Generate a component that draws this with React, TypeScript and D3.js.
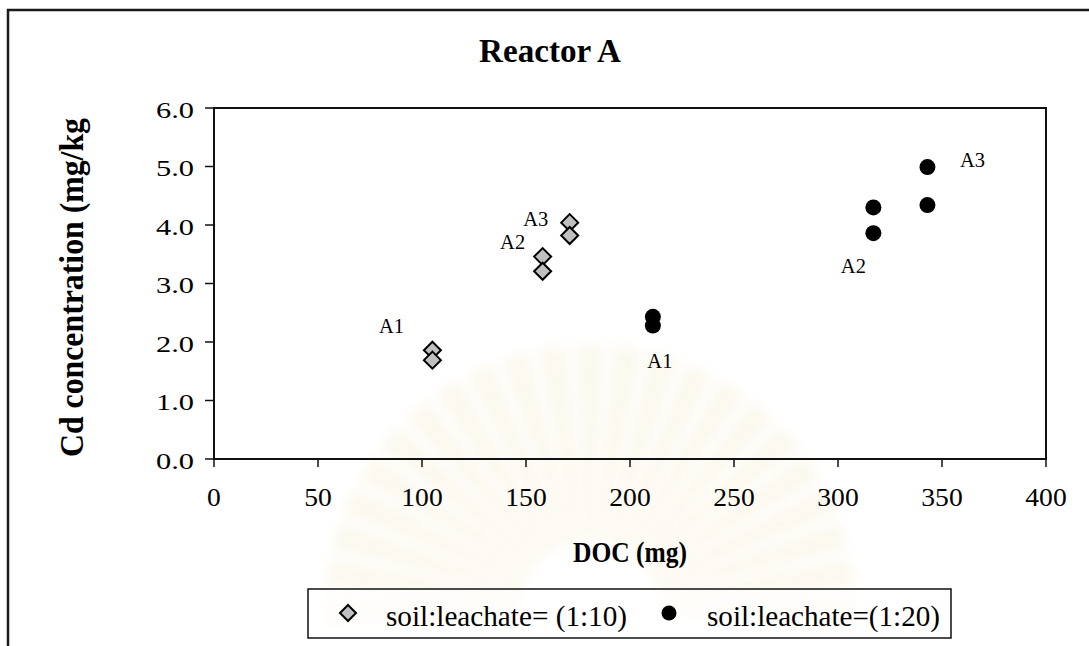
import React from "react";
import * as d3 from "d3";

// Reactor A: Cd concentration versus dissolved organic carbon
const seriesNames = ["soil:leachate= (1:10)", "soil:leachate=(1:20)"];

const docRatio10 = [105, 105, 158, 158, 171, 171];
const cdRatio10 = [1.86, 1.69, 3.46, 3.21, 4.04, 3.82];

const docRatio20 = [211, 211, 317, 317, 343, 343];
const cdRatio20 = [2.43, 2.28, 4.3, 3.86, 4.99, 4.34];

const xTicks = [0, 50, 100, 150, 200, 250, 300, 350, 400];
const yTicks = [0, 1, 2, 3, 4, 5, 6];

// Stage labels, attached to a point of a series (series index, point index)
const stageLabels = [
  { s: 0, i: 0, text: "A1", dx: -41, dy: -17 },
  { s: 0, i: 2, text: "A2", dx: -30, dy: -8 },
  { s: 0, i: 4, text: "A3", dx: -34, dy: 3 },
  { s: 1, i: 1, text: "A1", dx: 7, dy: 42 },
  { s: 1, i: 3, text: "A2", dx: -20, dy: 40 },
  { s: 1, i: 4, text: "A3", dx: 45, dy: 0 },
];

const W = 1089;
const H = 646;
const plot = { left: 214, right: 1046, top: 108, bottom: 459 };
const serif = "Liberation Serif";

const x = d3.scaleLinear().domain([0, 400]).range([plot.left, plot.right]);
const y = d3.scaleLinear().domain([0, 6]).range([plot.bottom, plot.top]);

const diamondPath = (cx: number, cy: number, r: number) =>
  `M${cx},${cy - r}L${cx + r},${cy}L${cx},${cy + r}L${cx - r},${cy}Z`;

const series = [
  docRatio10.map((d, i) => ({ doc: d, cd: cdRatio10[i] })),
  docRatio20.map((d, i) => ({ doc: d, cd: cdRatio20[i] })),
];

// faint background emblem: a fan of soft petals
const petals = d3.range(23).map((k) => {
  const a0 = Math.PI + (k * Math.PI) / 22;
  return d3.arc()({
    innerRadius: 70,
    outerRadius: 265,
    startAngle: a0 + Math.PI / 2 - 0.055,
    endAngle: a0 + Math.PI / 2 + 0.055,
  }) as string;
});

type TProps = React.SVGProps<SVGTextElement> & { children: React.ReactNode };
const T = (props: TProps) => <text fontFamily={serif} fill="#000" {...props} />;

export default function App() {
  return (
    <svg
      width={W}
      height={H}
      viewBox={`0 0 ${W} ${H}`}
      style={{ position: "absolute", left: 0, top: 0, background: "#fff" }}
    >
      <defs>
        <filter id="soft" x="-20%" y="-20%" width="140%" height="140%">
          <feGaussianBlur stdDeviation="6" />
        </filter>
      </defs>
      <rect x={0} y={0} width={W} height={H} fill="#fff" />

      <g transform="translate(590,610)" filter="url(#soft)" opacity={0.2}>
        {petals.map((p, k) => (
          <path key={k} d={p} fill="#efe0b0" />
        ))}
      </g>

      {/* chart frame */}
      <rect x={8} y={10} width={W + 20} height={H + 20} fill="none" stroke="#1a1a1a" strokeWidth={2.5} />

      <T
        x={550}
        y={62}
        textAnchor="middle"
        fontWeight="bold"
        fontSize={33}
        textLength={142}
        lengthAdjust="spacingAndGlyphs"
      >
        Reactor A
      </T>

      {/* plot area */}
      <rect
        x={plot.left}
        y={plot.top}
        width={plot.right - plot.left}
        height={plot.bottom - plot.top}
        fill="none"
        stroke="#111"
        strokeWidth={2}
      />

      {/* y axis */}
      {yTicks.map((t) => (
        <g key={`y${t}`}>
          <line x1={plot.left - 9} x2={plot.left} y1={y(t)} y2={y(t)} stroke="#111" strokeWidth={1.5} />
          <T
            x={194}
            y={y(t) + 9.5}
            textAnchor="end"
            fontSize={23}
            textLength={38}
            lengthAdjust="spacingAndGlyphs"
          >
            {d3.format(".1f")(t)}
          </T>
        </g>
      ))}

      {/* x axis */}
      {xTicks.map((t) => {
        const label = String(t);
        return (
          <g key={`x${t}`}>
            <line x1={x(t)} x2={x(t)} y1={plot.bottom} y2={plot.bottom + 8} stroke="#111" strokeWidth={1.5} />
            <T
              x={x(t)}
              y={506}
              textAnchor="middle"
              fontSize={25}
              textLength={label.length * 13.8}
              lengthAdjust="spacingAndGlyphs"
            >
              {label}
            </T>
          </g>
        );
      })}

      <T
        transform="translate(83,287.5) rotate(-90)"
        textAnchor="middle"
        fontWeight="bold"
        fontSize={33}
        textLength={339}
        lengthAdjust="spacingAndGlyphs"
      >
        Cd concentration (mg/kg
      </T>

      <T
        x={(plot.left + plot.right) / 2}
        y={562}
        textAnchor="middle"
        fontWeight="bold"
        fontSize={29}
        textLength={114}
        lengthAdjust="spacingAndGlyphs"
      >
        DOC (mg)
      </T>

      {/* markers */}
      {series[0].map((p, i) => (
        <path
          key={`d${i}`}
          d={diamondPath(x(p.doc), y(p.cd), 8.5)}
          fill="#c0c0c0"
          stroke="#000"
          strokeWidth={2}
        />
      ))}
      {series[1].map((p, i) => (
        <circle key={`c${i}`} cx={x(p.doc)} cy={y(p.cd)} r={8} fill="#000" />
      ))}

      {stageLabels.map((l, k) => {
        const p = series[l.s][l.i];
        return (
          <T
            key={`l${k}`}
            x={x(p.doc) + l.dx}
            y={y(p.cd) + l.dy}
            textAnchor="middle"
            fontSize={20}
            textLength={25}
            lengthAdjust="spacingAndGlyphs"
          >
            {l.text}
          </T>
        );
      })}

      {/* legend */}
      <rect x={308} y={589} width={643} height={49} fill="#fff" fillOpacity={0.6} stroke="#111" strokeWidth={1.5} />
      <path d={diamondPath(348, 613, 8)} fill="#c0c0c0" stroke="#000" strokeWidth={2} />
      <T x={386} y={626} fontSize={29} textLength={241} lengthAdjust="spacingAndGlyphs">
        {seriesNames[0]}
      </T>
      <circle cx={669} cy={613} r={7.5} fill="#000" />
      <T x={707} y={626} fontSize={29} textLength={233} lengthAdjust="spacingAndGlyphs">
        {seriesNames[1]}
      </T>
    </svg>
  );
}
